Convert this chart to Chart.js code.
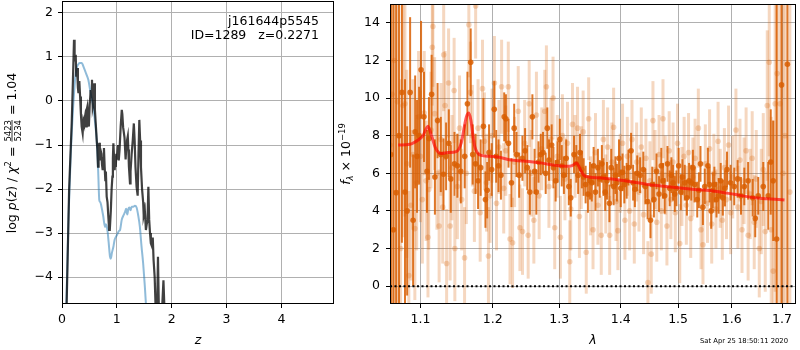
<!DOCTYPE html>
<html>
<head>
<meta charset="utf-8">
<script src="https://cdn.jsdelivr.net/npm/chart.js@4.4.1/dist/chart.umd.min.js"></script>
<style>
body{margin:0;background:#fff;}
#wrap{position:relative;width:800px;height:350px;}
canvas{position:absolute;top:0;}
#pz{left:0;}
#spec{left:335px;}
</style>
</head>
<body>
<div id="wrap">
<canvas id="pz" width="340" height="350"></canvas>
<canvas id="spec" width="465" height="350"></canvas>
</div>
<script>
// ---- left panel: log p(z) and chi2 ----
const zTicks = [0, 1, 2, 3, 4];
const logTicks = [-4, -3, -2, -1, 0, 1, 2];

const zChi = [0.06,0.085,0.13,0.177,0.2,0.219,0.23,0.25,0.26,0.275,0.29,0.30,0.316,0.33,0.345,0.359,0.377,0.39,0.40,0.42,
  0.438,0.45,0.462,0.475,0.49,0.505,0.523,0.535,0.547,0.56,0.575,0.59,0.60,0.615,0.633,0.645,0.657,0.668,0.68,0.69,
  0.70,0.72,0.73,0.742,0.755,0.765,0.778,0.79,0.80,0.815,0.83,0.845,0.86,0.868,0.875,0.89,0.905,0.919,0.928,0.937,
  0.95,0.96,0.97,0.98,0.99,1.0,1.02,1.035,1.05,1.07,1.09,1.10,1.115,1.14,1.16,1.17,1.185,1.2,1.21,1.22,
  1.24,1.25,1.27,1.29,1.31,1.325,1.34,1.36,1.38,1.395,1.41,1.425,1.44,1.46,1.48,1.49,1.51,1.53,1.545,1.56,
  1.575,1.59,1.605,1.62,1.64,1.655,1.67,1.69,1.71,1.73,1.75,1.77,1.80,1.83,1.85,1.87,1.89];
const chiLog = [-7,-4.6,-2.0,-0.5,0.5,1.39,0.9,1.05,0.55,0.75,0.3,0.18,0.45,0.1,-0.3,-0.58,-0.73,-0.45,-0.5,-0.35,
  -0.58,-0.2,-0.13,-0.4,-0.58,-0.1,0.25,0.1,0.48,-0.15,-0.05,0.4,-0.2,-0.5,-0.89,-1.1,-1.49,-1.2,-0.95,-1.35,
  -1.1,-1.2,-1.45,-1.57,-1.3,-1.07,-1.5,-1.8,-1.6,-2.17,-2.3,-2.63,-2.93,-2.6,-2.93,-2.5,-2.0,-1.72,-1.3,-0.96,
  -1.3,-1.57,-1.35,-1.5,-1.2,-1.33,-1.0,-1.35,-1.1,-0.58,-0.2,-0.3,-0.6,-0.83,-1.33,-1.1,-0.9,-0.8,-1.1,-1.48,
  -1.87,-1.6,-1.2,-0.9,-0.51,-0.9,-1.5,-1.95,-2.15,-1.2,-0.43,-0.9,-1.5,-2.0,-2.3,-2.6,-2.48,-2.93,-2.8,-2.7,
  -1.95,-2.7,-3.0,-3.23,-3.3,-3.1,-3.61,-4.0,-4.8,-5.2,-3.54,-5.0,-5.5,-4.6,-4.07,-4.8,-6];

const zPz = [0.06,0.08,0.12,0.16,0.2,0.24,0.268,0.30,0.33,0.359,0.40,0.44,0.48,0.52,0.55,0.571,0.60,0.633,0.66,0.68,
  0.70,0.72,0.75,0.785,0.80,0.83,0.85,0.876,0.89,0.91,0.937,0.96,1.0,1.04,1.058,1.089,1.12,1.15,1.17,1.19,
  1.21,1.23,1.25,1.27,1.30,1.33,1.36,1.39,1.42,1.45,1.48,1.51,1.54,1.57];
const pzLog = [-6,-4.6,-2.6,-1.2,-0.2,0.5,0.75,0.84,0.86,0.86,0.75,0.62,0.48,0.2,0.0,-0.13,-0.45,-0.89,-1.6,-2.25,
  -2.3,-2.4,-2.6,-2.86,-2.8,-2.95,-3.2,-3.54,-3.58,-3.45,-3.31,-3.15,-3.05,-2.95,-2.93,-2.7,-2.6,-2.52,-2.45,-2.58,
  -2.45,-2.42,-2.48,-2.4,-2.4,-2.38,-2.42,-2.6,-2.86,-3.3,-3.69,-4.2,-4.8,-5.5];

// ---- right panel: spectrum ----
const waveTicks = [1.1, 1.2, 1.3, 1.4, 1.5, 1.6, 1.7];
const fluxTicks = [0, 2, 4, 6, 8, 10, 12, 14];

const darkWave = [
  1.0615,1.0648,1.0683,1.0720,1.0757,1.0797,1.0825,1.0864,1.0903,1.0930,
  1.0955,1.0982,1.1008,1.1047,1.1087,1.1113,1.1149,1.1193,1.1229,1.1273,
  1.1309,1.1345,1.1382,1.1409,1.1460,1.1500,1.1547,1.1602,1.1640,1.1686,
  1.1714,1.1755,1.1790,1.1827,1.1866,1.1895,1.1920,1.1947,1.1985,1.2022,
  1.2050,1.2084,1.2119,1.2167,1.2192,1.2230,1.2274,1.2314,1.2348,1.2388,
  1.2437,1.2477,1.2510,1.2548,1.2587,1.2620,1.2647,1.2680,1.2714,1.2749,
  1.2790,1.2815,1.2841,1.2882,1.2910,1.2944,1.2975,1.3010,1.3040,1.3073,
  1.3110,1.3151,1.3182,1.3234,1.3270,1.3300,1.3329,1.3360,1.3388,1.3420,
  1.3457,1.3490,1.3520,1.3550,1.3580,1.3620,1.3650,1.3685,1.3710,1.3740,
  1.3770,1.3810,1.3840,1.3880,1.3910,1.3935,1.3970,1.4000,1.4030,1.4060,
  1.4100,1.4130,1.4175,1.4210,1.4240,1.4280,1.4330,1.4385,1.4420,1.4460,
  1.4510,1.4540,1.4570,1.4616,1.4660,1.4700,1.4730,1.4760,1.4810,1.4850,
  1.4880,1.4910,1.4940,1.4970,1.5010,1.5050,1.5080,1.5120,1.5160,1.5200,
  1.5240,1.5270,1.5300,1.5350,1.5380,1.5410,1.5455,1.5490,1.5548,1.5580,
  1.5610,1.5640,1.5670,1.5710,1.5750,1.5790,1.5830,1.5870,1.5910,1.5980,
  1.6050,1.6115,1.6180,1.6245,1.6320,1.6410,1.6460,1.6520,1.6620,1.6720,
  1.6770,1.6820,1.6890,1.6990,1.7110];
const darkFlux = [
  7.0,3.0,4.97,8.0,10.3,5.0,4.0,10.3,3.5,8.2,
  6.9,8.0,11.5,9.0,6.1,7.85,10.2,5.8,8.8,7.0,
  5.95,6.9,7.6,5.7,6.5,6.4,6.1,6.9,9.7,11.9,
  7.0,6.5,5.6,6.3,8.5,4.6,5.1,7.1,6.2,9.4,
  6.9,6.4,5.9,9.0,8.9,7.6,5.5,8.4,7.0,5.9,
  6.8,7.2,6.3,5.0,9.0,6.1,5.0,6.6,7.0,7.1,
  6.0,8.4,6.7,7.5,6.3,5.6,6.6,7.8,6.4,5.9,
  6.8,5.3,4.7,7.0,6.5,5.9,7.1,6.2,5.8,5.4,
  4.9,5.6,5.5,6.4,5.0,6.3,5.7,6.5,5.8,5.0,
  5.6,4.4,6.3,5.3,5.9,5.5,6.8,5.2,6.05,5.4,
  5.6,6.3,7.2,5.5,5.15,6.0,5.9,6.2,5.3,4.5,
  3.5,5.4,4.6,6.1,4.9,6.4,5.6,4.8,6.5,5.2,
  5.9,5.5,4.9,5.2,6.4,5.0,5.8,5.5,4.7,5.6,
  5.5,6.3,5.4,4.6,5.1,6.5,4.2,5.3,6.4,5.4,
  4.0,5.1,5.4,4.6,4.8,5.6,4.7,5.2,6.2,5.5,
  5.3,5.7,4.8,5.3,5.6,4.7,3.6,4.8,5.3,4.8,
  6.6,5.6,2.5,10.7,11.8];
const darkErr = [
  30,25,20,12,8,6,4.5,4,3.5,3,
  3,2.6,2.6,2.4,2.2,2.2,2.1,2,2,2,
  1.9,1.8,1.8,1.8,1.7,1.7,1.7,1.7,1.7,1.8,
  1.6,1.6,1.5,1.5,1.5,1.5,1.5,1.5,1.4,1.5,
  1.4,1.4,1.3,1.3,1.3,1.3,1.3,1.3,1.2,1.2,
  1.2,1.2,1.2,1.2,1.2,1.2,1.2,1.1,1.1,1.1,
  1.1,1.1,1.1,1.1,1.1,1.1,1.1,1.1,1.1,1,
  1,1,1,1,1,1,1,1,1,1,
  1,1,1,1,1,1,1,1,1,1,
  1,1,1,1,1,1,1,1,1,1,
  0.95,0.95,0.95,0.95,0.95,0.95,0.95,0.95,0.95,0.95,
  0.95,0.95,0.95,0.95,0.95,0.95,0.95,0.95,0.95,0.95,
  0.95,0.95,0.95,0.95,0.95,0.95,0.95,0.95,0.95,0.95,
  0.95,0.95,0.95,0.95,0.95,0.95,0.95,0.95,0.95,0.95,
  0.95,0.95,0.95,0.95,0.95,0.95,0.95,0.95,0.95,0.95,
  1,1,1,1,1,1,1,1,1.3,1.8,
  2.8,3.2,14,25,30];

const lightWave = [
  1.0605,1.0630,1.0660,1.0700,1.0740,1.0770,1.0796,1.0820,1.0847,1.0875,
  1.0900,1.0926,1.0950,1.0975,1.1000,1.1025,1.1050,1.1075,1.1100,1.1110,
  1.1140,1.1158,1.1166,1.1189,1.1220,1.1250,1.1275,1.1299,1.1312,1.1331,
  1.1352,1.1379,1.1400,1.1425,1.1455,1.1465,1.1500,1.1530,1.1560,1.1600,
  1.1625,1.1660,1.1682,1.1710,1.1738,1.1756,1.1790,1.1820,1.1853,1.1880,
  1.1910,1.1938,1.1962,1.1990,1.2024,1.2055,1.2090,1.2129,1.2160,1.2190,
  1.2227,1.2252,1.2290,1.2320,1.2374,1.2399,1.2438,1.2470,1.2523,1.2538,
  1.2570,1.2609,1.2648,1.2690,1.2730,1.2776,1.2801,1.2840,1.2870,1.2904,
  1.2930,1.2970,1.3018,1.3050,1.3090,1.3130,1.3166,1.3182,1.3210,1.3250,
  1.3290,1.3320,1.3350,1.3380,1.3430,1.3469,1.3500,1.3540,1.3580,1.3620,
  1.3675,1.3710,1.3750,1.3780,1.3814,1.3850,1.3880,1.3920,1.3952,1.3990,
  1.4030,1.4070,1.4110,1.4150,1.4190,1.4230,1.4270,1.4310,1.4350,1.4390,
  1.4430,1.4465,1.4500,1.4523,1.4553,1.4590,1.4620,1.4660,1.4700,1.4730,
  1.4770,1.4800,1.4840,1.4870,1.4910,1.4950,1.4990,1.5030,1.5070,1.5110,
  1.5150,1.5190,1.5230,1.5270,1.5310,1.5370,1.5420,1.5456,1.5500,1.5540,
  1.5580,1.5620,1.5660,1.5700,1.5740,1.5780,1.5820,1.5860,1.5900,1.5940,
  1.5980,1.6020,1.6082,1.6120,1.6160,1.6200,1.6240,1.6280,1.6320,1.6360,
  1.6400,1.6440,1.6480,1.6540,1.6580,1.6620,1.6660,1.6700,1.6740,1.6780,
  1.6820,1.6860,1.6900,1.6960,1.7020,1.7060,1.7160];
const lightFlux = [
  7.5,10.2,12.0,9.8,2.0,9.6,9.7,6.5,0.56,4.3,
  7.0,3.06,5.5,9.0,6.9,4.6,9.2,5.6,2.6,5.14,
  8.3,12.7,13.8,9.17,6.0,3.2,7.8,4.2,12.3,9.6,
  1.2,10.8,3.2,6.3,10.4,2.0,5.3,8.4,4.6,1.5,
  6.0,13.9,10.3,8.0,5.05,14.9,8.4,3.9,10.5,7.7,
  5.5,1.6,4.8,8.0,10.8,4.4,7.4,10.6,5.2,7.2,
  10.6,2.5,2.3,6.6,9.3,3.1,2.9,7.6,2.7,9.7,
  6.0,3.5,9.1,4.8,7.3,9.3,10.6,5.3,7.8,10.0,
  3.1,6.9,2.6,8.0,5.7,7.6,1.3,4.1,8.6,6.9,
  8.4,3.7,6.3,8.2,1.8,8.9,4.8,3.0,7.1,4.3,
  2.7,7.8,4.9,7.4,2.7,6.6,8.45,4.5,2.95,6.0,
  7.6,3.5,6.9,4.0,7.8,3.3,6.6,5.0,7.4,3.8,
  6.8,0.19,5.6,1.7,8.8,6.2,3.4,7.0,4.0,8.9,
  5.9,3.2,7.2,4.6,6.6,3.9,7.6,2.26,5.3,6.9,
  4.3,7.1,3.6,5.8,6.8,8.4,3.0,2.2,6.5,4.4,
  7.3,3.3,6.0,4.1,7.7,5.2,3.5,6.3,4.6,7.5,
  3.9,5.8,8.3,4.2,6.7,3.0,5.6,7.2,2.7,4.9,
  6.8,3.4,5.7,2.0,4.5,6.2,2.9,9.6,11.9,3.0,
  0.8,9.7,11.3,9.7,6.0,8.0,5.0];
const lightErr = [
  30,25,20,15,9,7,6,5,4.5,4,
  4,3.8,3.6,3.5,3.5,3.4,3.3,3.2,3.2,3.2,
  3.1,3.1,3.2,3,3,3,3,3,3,2.9,
  2.9,2.9,2.9,2.8,2.8,2.8,2.8,2.8,2.7,2.7,
  2.7,2.8,2.7,2.7,2.7,2.8,2.6,2.6,2.6,2.6,
  2.6,2.6,2.5,2.5,2.5,2.5,2.5,2.5,2.4,2.4,
  2.4,2.4,2.4,2.4,2.4,2.3,2.3,2.3,2.3,2.3,
  2.3,2.3,2.3,2.3,2.2,2.2,2.2,2.2,2.2,2.2,
  2.2,2.2,2.2,2.2,2.2,2.2,2.2,2.2,2.2,2.2,
  2.2,2.2,2.2,2.2,2.2,2.2,2.1,2.1,2.1,2.1,
  2.1,2.1,2.1,2.1,2.1,2.1,2.1,2.1,2.1,2.1,
  2.1,2.1,2.1,2.1,2.1,2.1,2.1,2.1,2.1,2.1,
  2.1,2.2,2.1,2.1,2.1,2.1,2.1,2.1,2.1,2.1,
  2.1,2.1,2.1,2.1,2.1,2.1,2.1,2.1,2.1,2.1,
  2.1,2.1,2.1,2.1,2.1,2.1,2.1,2.1,2.1,2.1,
  2.1,2.1,2.1,2.1,2.1,2.1,2.1,2.1,2.1,2.1,
  2.2,2.2,2.2,2.2,2.2,2.3,2.3,2.3,2.4,2.4,
  2.5,2.5,2.6,2.6,2.8,3.0,3.2,4.0,5.0,6.0,
  8,10,14,20,25,25,30];

const modelWave = [1.071,1.086,1.097,1.1034,1.110,1.1145,1.1203,1.128,1.1369,1.1484,1.1553,1.1598,1.1625,1.1658,1.1690,
  1.1714,1.1745,1.1780,1.1833,1.195,1.2095,1.224,1.2339,1.2537,1.2737,1.2943,1.3099,1.3203,1.3272,1.3336,
  1.3389,1.347,1.3685,1.3906,1.4129,1.447,1.4821,1.530,1.567,1.605,1.644,1.670,1.705];
const modelFlux = [7.5,7.54,7.77,8.0,8.5,8.03,7.33,7.05,7.1,7.15,7.6,8.5,9.0,9.2,8.8,
  8.1,7.4,7.1,6.95,6.9,6.85,6.72,6.68,6.63,6.54,6.42,6.37,6.4,6.54,6.2,
  5.9,5.8,5.75,5.67,5.58,5.4,5.28,5.14,5.05,4.88,4.7,4.65,4.58];

const zeroWave = [1.0604, 1.7288];
const zeroFlux = [0, 0];

const FAM = '"DejaVu Sans", sans-serif';
const F = '12.5px ' + FAM;
const FI = 'italic 12.5px ' + FAM;
const FS = '8.5px ' + FAM;
Chart.defaults.font.family = FAM;
Chart.defaults.font.size = 12.5;
Chart.defaults.color = '#000';

function pts(xs, ys) {
    return xs.map((x, i) => ({x: x, y: ys[i]}));
}

// vertical error bars as one gapped line per series
function errorSegments(xs, ys, es) {
    const out = [];
    xs.forEach((x, i) => {
        out.push({x: x, y: ys[i] - es[i]}, {x: x, y: ys[i] + es[i]}, {x: x, y: null});
    });
    return out;
}

function fixedTicks(values) {
    return scale => { scale.ticks = values.map(v => ({value: v})); };
}

const minus = v => String(v).replace('-', '\u2212');

function axisStyle(values) {
    return {
        afterBuildTicks: fixedTicks(values),
        grid: {color: '#b0b0b0', lineWidth: 1, tickColor: '#000', tickLength: 4},
        border: {display: false},
        ticks: {autoSkip: false, maxRotation: 0, padding: 4, callback: minus}
    };
}

// fixed axis box size, no label overhang padding
function fitTo(prop, size) {
    return s => {
        s[prop] = size;
        s.paddingTop = 0; s.paddingBottom = 0; s.paddingLeft = 0; s.paddingRight = 0;
    };
}

const frame = {
    id: 'frame',
    afterDraw(chart) {
        const {ctx, chartArea: a} = chart;
        ctx.save();
        ctx.strokeStyle = '#000';
        ctx.lineWidth = 1;
        ctx.strokeRect(a.left + 0.5, a.top + 0.5, a.right - a.left - 1, a.bottom - a.top - 1);
        ctx.restore();
    }
};

// rotated label built from pieces (italic letters, sub/superscripts, fraction)
function drawRotated(ctx, parts, cx, cy) {
    ctx.save();
    ctx.translate(cx, cy);
    ctx.rotate(-Math.PI / 2);
    ctx.fillStyle = '#000';
    ctx.textBaseline = 'alphabetic';
    let w = 0;
    parts.forEach(p => {
        ctx.font = p.font;
        w += p.den ? Math.max(ctx.measureText(p.t).width, ctx.measureText(p.den).width) + 2 : ctx.measureText(p.t).width;
    });
    let x = -w / 2;
    parts.forEach(p => {
        ctx.font = p.font;
        if (p.den) {
            const fw = Math.max(ctx.measureText(p.t).width, ctx.measureText(p.den).width);
            ctx.textAlign = 'center';
            ctx.fillText(p.t, x + 1 + fw / 2, -5.5);
            ctx.fillText(p.den, x + 1 + fw / 2, 5);
            ctx.fillRect(x + 1, -4.4, fw, 0.8);
            ctx.textAlign = 'left';
            x += fw + 2;
        } else {
            ctx.textAlign = 'left';
            ctx.fillText(p.t, x, p.dy || 0);
            x += ctx.measureText(p.t).width;
        }
    });
    ctx.restore();
}

const leftText = {
    id: 'leftText',
    afterDraw(chart) {
        const ctx = chart.ctx;
        ctx.save();
        ctx.font = F;
        ctx.fillStyle = '#000';
        ctx.textAlign = 'right';
        ctx.fillText('j161644p5545', 319, 24.5);
        ctx.fillText('ID=1289   z=0.2271', 319, 38.5);
        ctx.restore();
        drawRotated(ctx, [
            {t: 'log ', font: F}, {t: 'p', font: FI}, {t: '(', font: F}, {t: 'z', font: FI},
            {t: ') / ', font: F}, {t: '\u03c7', font: FI}, {t: '2', font: FS, dy: -5},
            {t: ' = ', font: F}, {t: '5423', den: '5234', font: FS}, {t: ' = 1.04', font: F}
        ], 16, 153);
    }
};

const rightText = {
    id: 'rightText',
    afterDraw(chart) {
        const ctx = chart.ctx;
        drawRotated(ctx, [
            {t: 'f', font: FI}, {t: '\u03bb', font: 'italic 8.5px ' + FAM, dy: 3},
            {t: ' \u00d7 10', font: F}, {t: '\u221219', font: FS, dy: -5.5}
        ], 15, 154);
        ctx.save();
        ctx.font = '6.8px ' + FAM;
        ctx.fillStyle = '#000';
        ctx.textAlign = 'right';
        ctx.fillText('Sat Apr 25 18:50:11 2020', 453, 343);
        ctx.restore();
    }
};

const xL = axisStyle(zTicks);
xL.type = 'linear'; xL.min = 0; xL.max = 4.96;
xL.afterFit = fitTo('height', 46);
xL.title = {display: true, text: 'z', font: {style: 'italic', size: 12.5}, padding: {top: 0, bottom: 2}};
const yL = axisStyle(logTicks);
yL.type = 'linear'; yL.min = -4.61; yL.max = 2.27;
yL.afterFit = fitTo('width', 62);
yL.ticks.padding = 5;

new Chart(document.getElementById('pz'), {
    type: 'scatter',
    data: {datasets: [
        {data: pts(zChi, chiLog), showLine: true, borderColor: 'rgba(0,0,0,0.75)', borderWidth: 2.2, pointRadius: 0, order: 1},
        {data: pts(zPz, pzLog), showLine: true, borderColor: 'rgba(31,119,180,0.5)', borderWidth: 2, pointRadius: 0,
         cubicInterpolationMode: 'monotone', order: 2}
    ]},
    options: {
        responsive: false, animation: false,
        layout: {padding: {top: 1, right: 6, left: 0, bottom: 0}},
        plugins: {legend: {display: false}, tooltip: {enabled: false}},
        scales: {x: xL, y: yL}
    },
    plugins: [frame, leftText]
});

const xR = axisStyle(waveTicks);
xR.type = 'logarithmic'; xR.min = 1.0604; xR.max = 1.7288;
xR.ticks.callback = v => Number(v).toFixed(1);
xR.afterFit = fitTo('height', 46);
xR.title = {display: true, text: '\u03bb', font: {style: 'italic', size: 12.5}, padding: {top: 0, bottom: 2}};
const yR = axisStyle(fluxTicks);
yR.type = 'linear'; yR.min = -0.95; yR.max = 15;
yR.afterFit = fitTo('width', 55);
yR.ticks.padding = 6;

const ORANGE_DARK = 'rgba(217,95,2,0.85)';
const ORANGE_LIGHT = 'rgba(217,95,2,0.25)';
const perSegment = {borderWidth: () => undefined};

new Chart(document.getElementById('spec'), {
    type: 'scatter',
    data: {datasets: [
        {data: pts(modelWave, modelFlux), showLine: true, borderColor: 'rgba(255,0,0,0.65)', borderWidth: 3,
         pointRadius: 0, cubicInterpolationMode: 'monotone', order: 1},
        {data: pts(zeroWave, zeroFlux), showLine: true, borderColor: '#000', borderWidth: 2,
         borderDash: [2, 2.5], pointRadius: 0, order: 2},
        {data: pts(darkWave, darkFlux), pointRadius: 2.8, pointBackgroundColor: ORANGE_DARK, pointBorderWidth: 0, order: 3},
        {data: errorSegments(darkWave, darkFlux, darkErr), showLine: true, spanGaps: false, borderColor: ORANGE_DARK,
         borderWidth: 2, pointRadius: 0, segment: perSegment, order: 4},
        {data: pts(lightWave, lightFlux), pointRadius: 2.8, pointBackgroundColor: ORANGE_LIGHT, pointBorderWidth: 0, order: 5},
        {data: errorSegments(lightWave, lightFlux, lightErr), showLine: true, spanGaps: false, borderColor: ORANGE_LIGHT,
         borderWidth: 3, pointRadius: 0, segment: perSegment, order: 6}
    ]},
    options: {
        responsive: false, animation: false,
        layout: {padding: {top: 1, right: 1, left: 0, bottom: 0}},
        plugins: {legend: {display: false}, tooltip: {enabled: false}},
        scales: {x: xR, y: yR}
    },
    plugins: [frame, rightText]
});
</script>
</body>
</html>
